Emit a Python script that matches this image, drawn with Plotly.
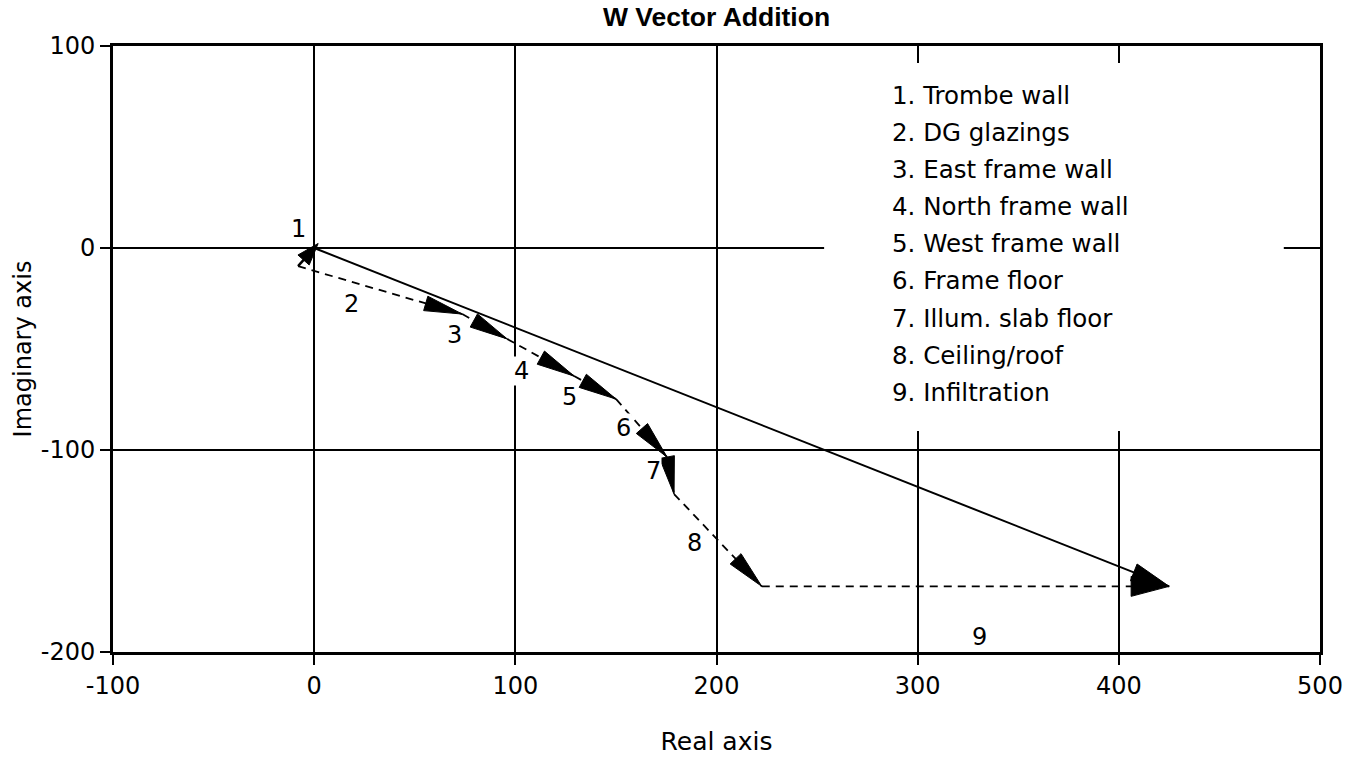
import math
import plotly.graph_objects as go

# ---------------- data ----------------
# component vectors (real, imaginary) of each heat-loss term, added tip to tail from the origin
labels = ["1", "2", "3", "4", "5", "6", "7", "8", "9"]
names = ["Trombe wall", "DG glazings", "East frame wall", "North frame wall",
         "West frame wall", "Frame floor", "Illum. slab floor", "Ceiling/roof", "Infiltration"]
vec_re = [-8.0, 81.6, 22.3, 33.3, 20.9, 25.3, 3.5, 43.6, 202.5]
vec_im = [-9.0, -23.7, -12.3, -18.4, -11.4, -28.7, -18.3, -45.7, 0.0]

x_ticks = [-100, 0, 100, 200, 300, 400, 500]
y_ticks = [-200, -100, 0, 100]

# label anchor positions for the vector numbers (layout)
lab_x = [-8, 18.4, 69.6, 102.9, 126.7, 153.6, 168.5, 188.9, 330.5]
lab_y = [9.4, -27.7, -43, -61, -73.8, -89, -110.4, -146, -192.6]

# ---------------- layout constants ----------------
W_PX, H_PX = 1346, 759
M_L, M_R, M_T, M_B = 113, 26, 46, 107
X0, X1 = -100, 500
Y0, Y1 = -200, 100
SX = (W_PX - M_L - M_R) / (X1 - X0)
SY = (H_PX - M_T - M_B) / (Y1 - Y0)
FONT = "DejaVu Sans"
FS = 24

# cumulative chain
pts_x, pts_y = [0.0], [0.0]
for a, b in zip(vec_re, vec_im):
    pts_x.append(pts_x[-1] + a)
    pts_y.append(pts_y[-1] + b)
res_x, res_y = pts_x[-1], pts_y[-1]


def head(tail, tip, L, Wd, shift=0.0):
    dx = (tip[0] - tail[0]) * SX
    dy = (tip[1] - tail[1]) * SY
    n = math.hypot(dx, dy)
    ux, uy = dx / n, dy / n
    L = min(L, n)
    tx = tip[0] * SX + ux * shift
    ty = tip[1] * SY + uy * shift
    bx, by = tx - ux * L, ty - uy * L
    px, py = -uy, ux
    xs = [tx, bx + px * Wd, bx - px * Wd, tx]
    ys = [ty, by + py * Wd, by - py * Wd, ty]
    return [v / SX for v in xs], [v / SY for v in ys]


fig = go.Figure()

# resultant (solid)
fig.add_trace(go.Scatter(x=[0, res_x], y=[0, res_y], mode="lines",
                         line=dict(color="black", width=2), hoverinfo="skip", showlegend=False))
hx, hy = head((0, 0), (res_x, res_y), 38, 9)
fig.add_trace(go.Scatter(x=hx, y=hy, mode="lines", fill="toself", fillcolor="black",
                         line=dict(color="black", width=1), hoverinfo="skip", showlegend=False))

# vector 1 (solid short, head drawn at the origin end as in the reference)
fig.add_trace(go.Scatter(x=[pts_x[1], pts_x[0]], y=[pts_y[1], pts_y[0]], mode="lines",
                         line=dict(color="black", width=2.5), hoverinfo="skip", showlegend=False))
hx, hy = head((pts_x[1], pts_y[1]), (pts_x[0], pts_y[0]), 22, 7.5, shift=6)
fig.add_trace(go.Scatter(x=hx, y=hy, mode="lines", fill="toself", fillcolor="black",
                         line=dict(color="black", width=1), hoverinfo="skip", showlegend=False))

# vectors 2..9 (dashed)
for i in range(1, len(vec_re)):
    tail = (pts_x[i], pts_y[i])
    tip = (pts_x[i + 1], pts_y[i + 1])
    fig.add_trace(go.Scatter(x=[tail[0], tip[0]], y=[tail[1], tip[1]], mode="lines",
                             line=dict(color="black", width=1.8, dash="8px,6px"),
                             hoverinfo="skip", showlegend=False))
    Wd = 10 if i == len(vec_re) - 1 else 7.5
    hx, hy = head(tail, tip, 38, Wd)
    fig.add_trace(go.Scatter(x=hx, y=hy, mode="lines", fill="toself", fillcolor="black",
                             line=dict(color="black", width=1), hoverinfo="skip", showlegend=False))

# vector number labels
for t, x, y in zip(labels, lab_x, lab_y):
    fig.add_annotation(x=x, y=y, text=t, showarrow=False, bgcolor="white", borderpad=0,
                       font=dict(family=FONT, size=FS, color="black"))

# key box (white, hides grid lines)
fig.add_shape(type="rect", x0=253.5, x1=482, y0=-90.6, y1=91.6, xref="x", yref="y",
              fillcolor="white", line=dict(width=0), layer="between")

legend_x = 286.3
legend_y0 = 75.7
legend_step = 18.4
for i, (t, nm) in enumerate(zip(labels, names)):
    fig.add_annotation(x=legend_x, y=legend_y0 - i * legend_step, text=f"{t}. {nm}",
                       showarrow=False, xanchor="left", yanchor="middle",
                       font=dict(family=FONT, size=24.5, color="black"))

axis_common = dict(showline=True, linecolor="black", linewidth=3, mirror=True,
                   ticks="outside", ticklen=10, tickwidth=2, tickcolor="black",
                   showgrid=True, gridcolor="black", gridwidth=1.6, zeroline=False,
                   tickfont=dict(family=FONT, size=FS, color="black"))

fig.update_xaxes(range=[X0, X1], tickvals=x_ticks, ticktext=[str(v) for v in x_ticks],
                 title=dict(text="Real axis", font=dict(family=FONT, size=25, color="black"),
                            standoff=34),
                 **axis_common)
fig.update_yaxes(range=[Y0, Y1], tickvals=y_ticks, ticktext=[str(v) for v in y_ticks],
                 title=dict(text="Imaginary axis", font=dict(family=FONT, size=FS, color="black"),
                            standoff=3),
                 **axis_common)

fig.update_layout(
    width=W_PX, height=H_PX,
    margin=dict(l=M_L, r=M_R, t=M_T, b=M_B, autoexpand=False),
    paper_bgcolor="white", plot_bgcolor="white",
    title=dict(text="<b>W Vector Addition</b>", x=0.5, xref="paper", y=1 - 17 / H_PX,
               yref="container", xanchor="center", yanchor="middle",
               font=dict(family="Liberation Sans", size=26.5, color="black")),
    showlegend=False,
)

fig.write_html(
    "out.html",
    config={"displayModeBar": False},
    post_script="document.body.style.margin='0';document.body.style.overflow='hidden';",
)
